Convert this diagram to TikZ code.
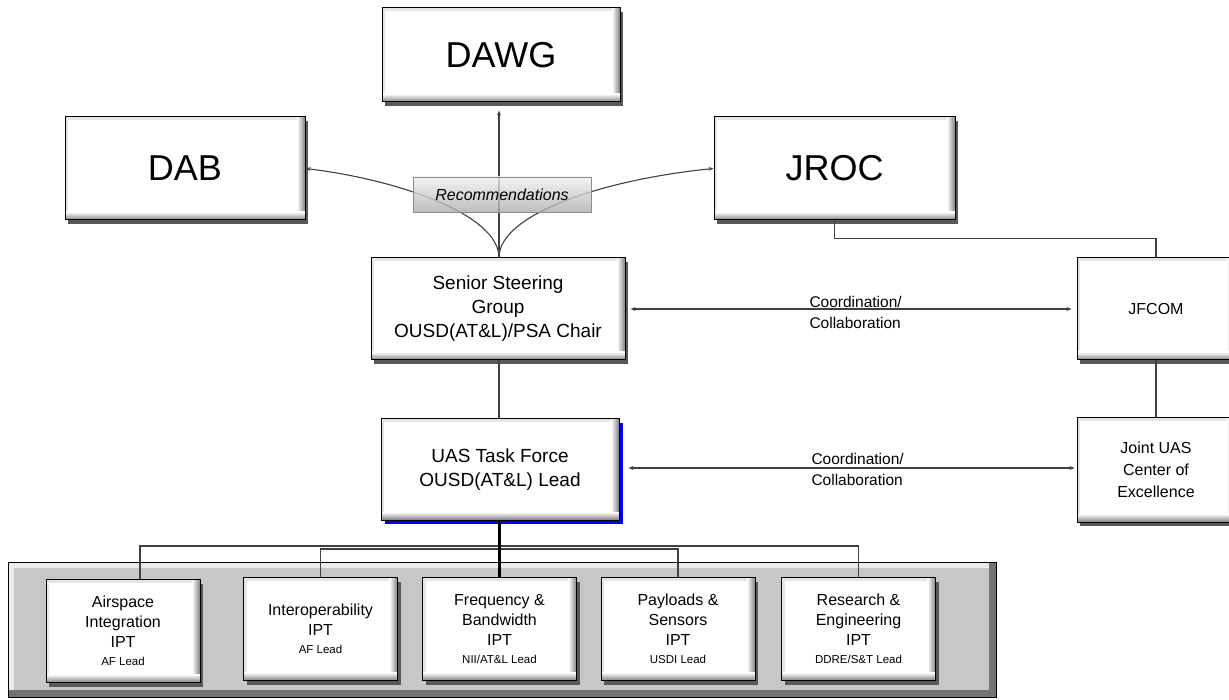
\documentclass[tikz,border=0pt]{standalone}
\usepackage{fontspec}
\setmainfont{Liberation Sans}
\usetikzlibrary{arrows.meta,shadows}
\begin{document}
\begin{tikzpicture}[x=1pt,y=-1pt,
  conn/.style={draw=black!75, line width=1.3pt},
  tipend/.style={-{Stealth[length=5pt,width=4pt]}},
  tipboth/.style={{Stealth[length=5pt,width=4pt]}-{Stealth[length=5pt,width=4pt]}},
  bevel/.style={draw=black, line width=1pt, fill=white, inner sep=0pt, align=center,
    path picture={
      \fill[black!10] (path picture bounding box.north west) rectangle ([xshift=3pt]path picture bounding box.south west);
      \fill[black!10] (path picture bounding box.north west) rectangle ([yshift=-3pt]path picture bounding box.north east);
      \shade[left color=white, right color=black!50] ([xshift=-8pt]path picture bounding box.north east) rectangle (path picture bounding box.south east);
      \shade[top color=white, bottom color=black!50] ([yshift=8pt]path picture bounding box.south west) rectangle (path picture bounding box.south east);
    }},
  gshadow/.style={drop shadow={shadow xshift=3pt, shadow yshift=-4pt, fill=black!65, opacity=1}},
  bshadow/.style={drop shadow={shadow xshift=4pt, shadow yshift=-4pt, fill=blue, opacity=1}},
  big/.style={font=\fontsize{36}{40}\selectfont},
  mid/.style={font=\fontsize{19}{24}\selectfont},
  ipt/.style={bevel, gshadow, minimum width=154pt, minimum height=103pt, font=\fontsize{16}{20}\selectfont},
  lead/.style={font=\fontsize{11.5}{14}\selectfont}
]
\useasboundingbox (0,0) rectangle (1229,700);

% top boxes
\node[bevel,gshadow,big,minimum width=238pt,minimum height=94pt] (dawg) at (501,55) {DAWG};
\node[bevel,gshadow,big,minimum width=240pt,minimum height=103pt] (dab) at (185,168.5) {DAB};
\node[bevel,gshadow,big,minimum width=241pt,minimum height=103pt] (jroc) at (834.5,168.5) {JROC};

% middle boxes
\node[bevel,gshadow,mid,minimum width=254pt,minimum height=102pt] (ssg) at (498,309)
  {Senior Steering\\Group\\OUSD(AT\&L)/PSA Chair};
\node[bevel,bshadow,mid,minimum width=238pt,minimum height=101pt] (uas) at (500,469.5)
  {UAS Task Force\\OUSD(AT\&L) Lead};

% right boxes
\node[bevel,gshadow,font=\fontsize{16}{20}\selectfont,minimum width=158pt,minimum height=102pt] (jfcom) at (1156,309) {JFCOM};
\node[bevel,gshadow,font=\fontsize{16}{22}\selectfont,minimum width=158pt,minimum height=104pt] (juas) at (1156,470)
  {Joint UAS\\Center of\\Excellence};

% panel
\node[draw=black, line width=1pt, fill=black!22, minimum width=988pt, minimum height=135pt, inner sep=0pt,
  path picture={
    \fill[black!8] (path picture bounding box.north west) rectangle ([xshift=6pt]path picture bounding box.south west);
    \fill[black!8] (path picture bounding box.north west) rectangle ([yshift=-6pt]path picture bounding box.north east);
    \fill[black!55] ([xshift=-7pt]path picture bounding box.north east) rectangle (path picture bounding box.south east);
    \fill[black!55] ([yshift=7pt]path picture bounding box.south west) rectangle (path picture bounding box.south east);
  }] (panel) at (502,629.5) {};

% IPT boxes
\node[ipt] (air) at (123,631) {Airspace\\Integration\\IPT\\[-2pt]{\fontsize{11.5}{14}\selectfont AF Lead}};
\node[ipt] (inter) at (320.5,629) {Interoperability\\IPT\\[-2pt]{\fontsize{11.5}{14}\selectfont AF Lead}};
\node[ipt] (freq) at (499.5,629) {Frequency \&\\Bandwidth\\IPT\\[-2pt]{\fontsize{11.5}{14}\selectfont NII/AT\&L Lead}};
\node[ipt] (payl) at (678,629) {Payloads \&\\Sensors\\IPT\\[-2pt]{\fontsize{11.5}{14}\selectfont USDI Lead}};
\node[ipt] (rse) at (858.5,629) {Research \&\\Engineering\\IPT\\[-2pt]{\fontsize{11.5}{14}\selectfont DDRE/S\&T Lead}};

% recommendations connectors
\draw[conn, line width=1.1pt, tipend] (ssg.north -| 499,0) .. controls (499,215) and (400,180) .. (dab.east);
\draw[conn, line width=1.1pt, tipend] (ssg.north -| 499,0) .. controls (499,215) and (600,180) .. (jroc.west);
\draw[conn, line width=1.1pt, tipend, shorten >=8pt] (ssg.north -| 499,0) -- (dawg.south -| 499,0);

\node[draw=black!45, line width=0.8pt, top color=black!6, bottom color=black!32, fill opacity=0.8, text opacity=1,
  minimum width=178pt, minimum height=35pt, inner sep=0pt, font=\fontsize{16}{18}\selectfont\itshape] (rec) at (502,194.5) {Recommendations};

% vertical chain
\draw[conn, line width=2pt] (ssg.south -| 499,0) -- (uas.north -| 499,0);
\draw[conn] (jroc.south) -- ++(0,18) -| (jfcom.north);
\draw[conn] (jfcom.south) -- (juas.north);

% coordination
\draw[conn, line width=1.1pt, tipboth, shorten <=5pt, shorten >=5pt] (ssg.east) -- (jfcom.west |- ssg.east);
\node[align=left, anchor=west, font=\fontsize{15.5}{21}\selectfont] (c1) at (806,312) {Coordination/\\Collaboration};
\draw[conn, line width=1.1pt, tipboth, shorten <=9pt, shorten >=2pt] (uas.east |- 0,468) -- (juas.west |- 0,468);
\node[align=left, anchor=west, font=\fontsize{15.5}{21}\selectfont] (c2) at (808,469) {Coordination/\\Collaboration};

% tree bus
\coordinate (busL) at (140,546);
\coordinate (busR) at (858.5,546);
\coordinate (busIL) at (320.5,549);
\draw[conn] (air.north -| busL) -- (busL) -- (busR) -- (rse.north);
\draw[conn] (inter.north) -- (busIL) -| (payl.north);
\draw[draw=black, line width=2.2pt] (uas.south -| 499.5,0) -- (freq.north);
\end{tikzpicture}
\end{document}
